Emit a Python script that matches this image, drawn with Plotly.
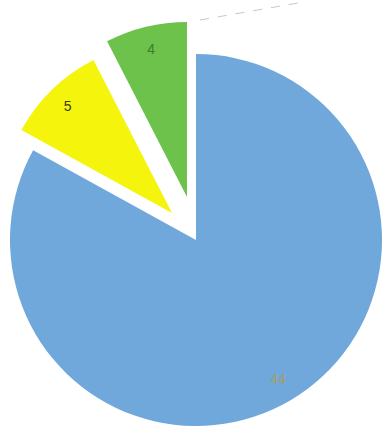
import plotly.graph_objects as go

labels = ["A", "B", "C"]
values = [44, 5, 4]
colors = ["#70a8db", "#f4f40c", "#6cc24a"]
text_colors = ["#a39f6a", "#3a3a10", "#3f7a2a"]

W, H = 383, 436

def dom(cx, cy, r):
    return dict(x=[(cx - r) / W, (cx + r) / W], y=[1 - (cy + r) / H, 1 - (cy - r) / H])

# (slice index, center x, center y, radius) in px – centers offset for the exploded slices
placements = [(0, 196, 240, 186), (1, 172, 213, 172), (2, 187, 197, 175)]

fig = go.Figure()
for idx, cx, cy, r in placements:
    cols = ["rgba(0,0,0,0)"] * len(values)
    cols[idx] = colors[idx]
    fig.add_trace(go.Pie(
        labels=labels, values=values, sort=False, direction="clockwise", rotation=0,
        marker=dict(colors=cols, line=dict(width=0)),
        textinfo="none",
        domain=dom(cx, cy, r), showlegend=False, hoverinfo="skip",
    ))

# transparent ring traces carrying the value labels near the outer edge
for idx, cx, cy, r in placements:
    tt = [""] * len(values)
    tt[idx] = "%{value}"
    fig.add_trace(go.Pie(
        labels=labels, values=values, sort=False, direction="clockwise", rotation=0,
        hole=0.74,
        marker=dict(colors=["rgba(0,0,0,0)"] * len(values), line=dict(width=0)),
        texttemplate=tt, textposition="inside", insidetextorientation="horizontal",
        textfont=dict(size=14, color=text_colors[idx], family="Arial"),
        domain=dom(cx, cy, r), showlegend=False, hoverinfo="skip",
    ))

fig.add_shape(type="line", x0=200 / W, y0=1 - 20 / H, x1=298 / W, y1=1 - 3 / H,
              xref="paper", yref="paper", line=dict(color="#c8c8c8", width=1, dash="dash"))

fig.update_layout(width=W, height=H, margin=dict(l=0, r=0, t=0, b=0),
                  paper_bgcolor="white", plot_bgcolor="white", showlegend=False)
fig.write_html("out.html")
